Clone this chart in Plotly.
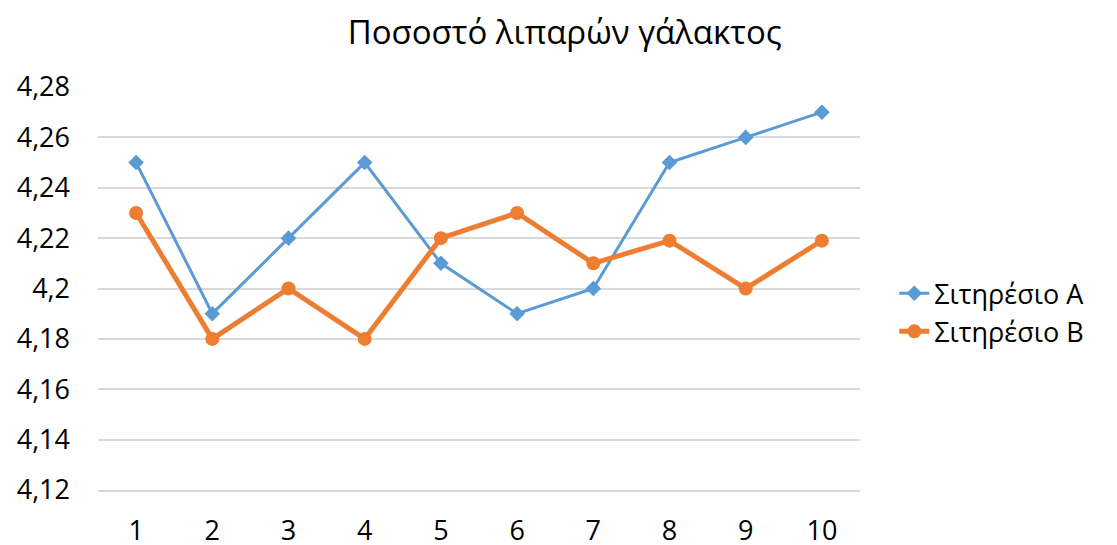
import plotly.graph_objects as go

# Data
samples = [1, 2, 3, 4, 5, 6, 7, 8, 9, 10]
series_a = [4.25, 4.19, 4.22, 4.25, 4.21, 4.19, 4.20, 4.25, 4.26, 4.27]
series_b = [4.23, 4.18, 4.20, 4.18, 4.22, 4.23, 4.21, 4.219, 4.20, 4.219]
y_ticks = [4.12, 4.14, 4.16, 4.18, 4.20, 4.22, 4.24, 4.26, 4.28]

FONT = "Open Sans"

fig = go.Figure()

fig.add_trace(go.Scatter(
    x=samples, y=series_a, name="Σιτηρέσιο Α",
    mode="lines+markers",
    line=dict(color="#5b9bd5", width=3),
    marker=dict(symbol="diamond", size=12, color="#5b9bd5"),
))
fig.add_trace(go.Scatter(
    x=samples, y=series_b, name="Σιτηρέσιο Β",
    mode="lines+markers",
    line=dict(color="#ed7d31", width=5),
    marker=dict(symbol="circle", size=14, color="#ed7d31"),
))

# page body adds an 8px offset, margins are compensated for it
fig.update_layout(
    width=1109, height=537,
    margin=dict(l=90, r=257, t=79, b=55, autoexpand=False),
    paper_bgcolor="white", plot_bgcolor="white",
    separators=", ",
    font=dict(family=FONT, size=27, color="#000000"),
    title=dict(text="Ποσοστό λιπαρών γάλακτος", x=0.502, xanchor="center",
               y=0.955, yanchor="middle",
               font=dict(family=FONT, size=33, color="#000000")),
    legend=dict(x=1.045, xanchor="left", y=0.44, yanchor="middle",
                font=dict(family=FONT, size=27), tracegroupgap=0,
                bgcolor="rgba(0,0,0,0)"),
    showlegend=True,
)

fig.update_xaxes(
    range=[0.5, 10.5], tickvals=samples, ticktext=[str(s) for s in samples],
    showgrid=False, zeroline=False, ticks="", automargin=False,
    showline=True, linecolor="#d9d9d9", linewidth=2,
    tickfont=dict(family=FONT, size=27), ticklabelstandoff=16,
)
fig.update_yaxes(
    range=[4.12, 4.28], tickvals=y_ticks,
    ticktext=[("%g" % v).replace(".", ",") for v in y_ticks],
    showgrid=True, gridcolor="#d9d9d9", gridwidth=2, zeroline=False,
    showline=False, ticks="", automargin=False,
    tickfont=dict(family=FONT, size=27), ticklabelstandoff=27,
)

fig.write_html("out.html")
